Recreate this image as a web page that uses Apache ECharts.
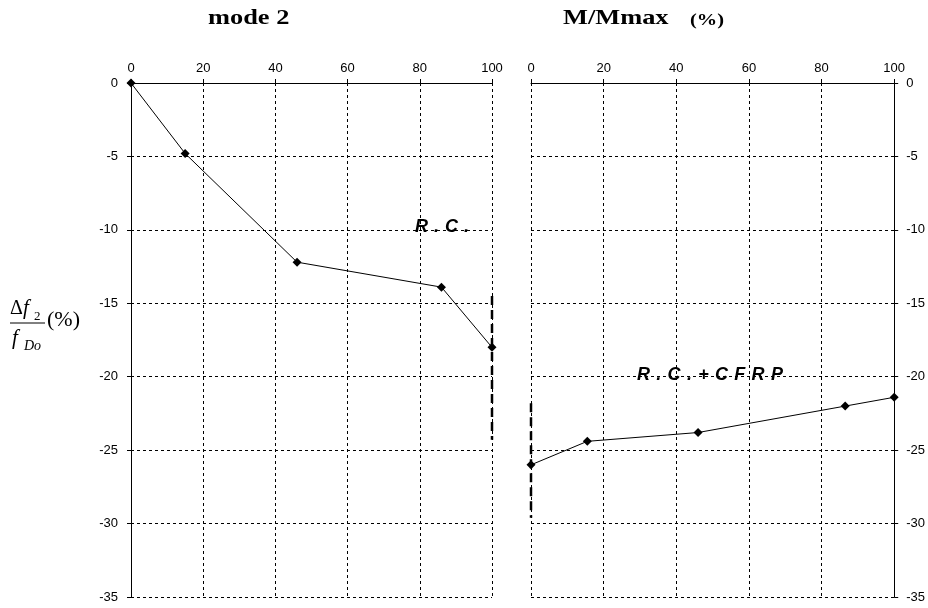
<!DOCTYPE html>
<html>
<head>
<meta charset="utf-8">
<script src="https://cdn.jsdelivr.net/npm/echarts@6/dist/echarts.min.js"></script>
<style>
  html, body { margin: 0; padding: 0; background: #fff; }
  #main { width: 928px; height: 608px; }
</style>
</head>
<body>
<div id="main"></div>
<script>
  // M/Mmax (%) and delta f2 / fDo (%)
  const rcX = [0, 15, 46, 86, 100];
  const rcY = [0, -4.8, -12.2, -13.9, -18];
  const cfrpX = [0, 15.5, 46, 86.5, 100];
  const cfrpY = [-26, -24.4, -23.8, -22, -21.4];
  // thick dashed marks at the ends
  const rcMark = [[100, -14.5], [100, -24.3]];
  const cfrpMark = [[0, -21.8], [0, -29.6]];

  const chart = echarts.init(document.getElementById('main'));

  const pairs = (xs, ys) => xs.map((x, i) => [x, ys[i]]);

  // draws text char by char so letters get spaced out
  const ctx = document.createElement('canvas').getContext('2d');
  const spaced = (str, x, y, size, gap) => {
    const font = 'italic bold ' + size + 'px Arial, "Liberation Sans", sans-serif';
    ctx.font = font;
    const out = [];
    let cx = x;
    for (const ch of str) {
      out.push({
        type: 'text', left: cx, top: y,
        style: { text: ch, font: font, fill: '#000' },
      });
      cx += ctx.measureText(ch).width + gap;
    }
    return out;
  };

  const axisFont = { color: '#000', fontSize: 13, fontFamily: 'Arial, "Liberation Sans", sans-serif' };

  const xAxisOf = (gridIndex) => ({
    type: 'value', gridIndex, min: 0, max: 100, interval: 20, position: 'top',
    axisLine: { show: true, onZero: false, lineStyle: { color: '#000', width: 1 } },
    axisTick: { show: true, length: 4, lineStyle: { color: '#000' } },
    axisLabel: Object.assign({ margin: 8 }, axisFont),
    splitLine: { show: true, lineStyle: { color: '#000', width: 1, type: [3, 3] } },
  });

  const yAxisOf = (gridIndex, pos) => ({
    type: 'value', gridIndex, min: -35, max: 0, interval: 5, position: pos,
    axisLine: { show: true, onZero: false, lineStyle: { color: '#000', width: 1 } },
    axisTick: { show: true, length: 4, lineStyle: { color: '#000' } },
    axisLabel: Object.assign({ margin: pos === 'left' ? 13 : 12 }, axisFont),
    splitLine: { show: true, lineStyle: { color: '#000', width: 1, type: [3, 3] } },
  });

  const lineOf = (idx, data) => ({
    type: 'line', xAxisIndex: idx, yAxisIndex: idx, data,
    symbol: 'diamond', symbolSize: 9, showSymbol: true,
    itemStyle: { color: '#000' },
    lineStyle: { color: '#000', width: 1 },
    animation: false, z: 5,
  });

  const markOf = (idx, data) => ({
    type: 'line', xAxisIndex: idx, yAxisIndex: idx, data,
    symbol: 'none',
    lineStyle: { color: '#000', width: 2.5, type: [9, 5] },
    animation: false, z: 4,
  });

  const serifBold = (size) => 'bold ' + size + 'px "Liberation Serif", "Times New Roman", serif';

  const option = {
    backgroundColor: '#fff',
    animation: false,
    grid: [
      { left: 131, right: 436, top: 83, bottom: 11 },
      { left: 531, right: 33, top: 83, bottom: 11 },
    ],
    xAxis: [xAxisOf(0), xAxisOf(1)],
    yAxis: [yAxisOf(0, 'left'), yAxisOf(1, 'right')],
    series: [
      lineOf(0, pairs(rcX, rcY)),
      markOf(0, rcMark),
      lineOf(1, pairs(cfrpX, cfrpY)),
      markOf(1, cfrpMark),
    ],
    graphic: [
      {
        type: 'text', x: 208, y: 7, scaleX: 1.2,
        style: { text: 'mode 2', font: serifBold(22), fill: '#000' },
      },
      {
        type: 'text', x: 563, y: 7, scaleX: 1.2,
        style: { text: 'M/Mmax', font: serifBold(22), fill: '#000' },
      },
      {
        type: 'text', x: 690, y: 12, scaleX: 1.2,
        style: { text: '(%)', font: serifBold(17), fill: '#000' },
      },
      // y axis name: delta f2 / fDo (%)
      {
        type: 'text', left: 10, top: 299,
        style: { text: 'Δ', font: '20px "Liberation Serif", serif', fill: '#000' },
      },
      {
        type: 'text', left: 23, top: 298,
        style: { text: 'f', font: 'italic 21px "Liberation Serif", serif', fill: '#000' },
      },
      {
        type: 'text', left: 34, top: 310,
        style: { text: '2', font: '13px "Liberation Serif", serif', fill: '#000' },
      },
      {
        type: 'line', shape: { x1: 10, y1: 323, x2: 45, y2: 323 },
        style: { stroke: '#000', lineWidth: 1 },
      },
      {
        type: 'text', left: 12, top: 328,
        style: { text: 'f', font: 'italic 21px "Liberation Serif", serif', fill: '#000' },
      },
      {
        type: 'text', left: 24, top: 339,
        style: { text: 'Do', font: 'italic 14px "Liberation Serif", serif', fill: '#000' },
      },
      {
        type: 'text', left: 47, top: 309,
        style: { text: '(%)', font: '22px "Liberation Serif", serif', fill: '#000' },
      },
      ...spaced('R.C.', 415, 218, 18, 6),
      ...spaced('R.C.+CFRP', 637, 366, 18, 6.3),
    ],
  };

  chart.setOption(option);
</script>
</body>
</html>
